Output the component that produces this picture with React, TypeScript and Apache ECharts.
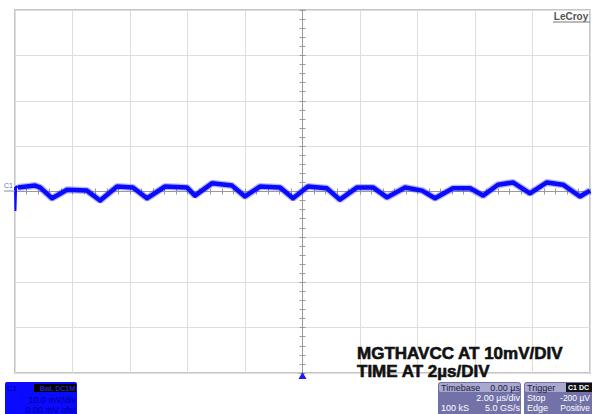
import React, { useEffect, useRef } from "react";
import * as echarts from "echarts";

// Time base: 2 µs/div, 10 divisions; vertical: 10 mV/div, 8 divisions
const X_MIN = -10;
const X_MAX = 10;
const X_DIV = 2;
const Y_MIN = -40;
const Y_MAX = 40;
const Y_DIV = 10;

// Ripple waveform (µs, mV)
const timeUs = [
  -9.9, -9.3, -9.13, -8.71, -8.19, -7.5, -7.04, -6.45, -5.9, -5.41,
  -4.78, -4.02, -3.74, -3.15, -2.45, -2.0, -1.48, -0.78, -0.33, 0.19,
  0.85, 1.3, 1.9, 2.45, 2.94, 3.57, 4.16, 4.61, 5.23, 5.83,
  6.28, 6.8, 7.32, 7.91, 8.5, 9.06, 9.65, 10.0,
];
const rippleMv = [
  0.9, 1.3, 0.9, -1.5, 0.4, 0.2, -2.0, 1.1, 0.9, -1.5,
  1.1, 0.9, -0.9, 1.8, 1.3, -1.1, 1.1, 0.9, -1.5, 1.1,
  0.7, -1.8, 0.9, 0.9, -1.3, 0.9, 0.2, -1.5, 0.7, 0.7,
  -0.9, 1.5, 2.0, -0.4, 2.0, 1.5, -1.1, 0.2,
];
// Start-of-record glitch
const glitchTimeUs = [-10.0, -9.985, -9.96, -9.9];
const glitchMv = [1.0, -4.3, 1.2, 0.9];

const FONT = "Arial, Helvetica, sans-serif";

function txt(
  x: number, y: number, text: string, size: number, fill: string,
  align = "left", weight = "normal", vAlign = "middle", strokeW = 0
) {
  const style: any = {
    text,
    font: `${weight} ${size}px ${FONT}`,
    fontSize: size,
    fontFamily: FONT,
    fontWeight: weight === "bold" ? 700 : 400,
    fill,
    align,
    verticalAlign: vAlign,
    textAlign: align,
    textVerticalAlign: vAlign,
  };
  if (strokeW > 0) {
    style.stroke = fill;
    style.lineWidth = strokeW;
  }
  return { type: "text", x, y, silent: true, z: 20, style };
}

export default function App() {
  const ref = useRef<HTMLDivElement>(null);

  useEffect(() => {
    if (!ref.current) return;
    const chart = echarts.init(ref.current, undefined, { renderer: "svg" });

    const axisGray = "#9a9a9a";
    const tickCommon = {
      axisLine: { show: true, onZero: true, lineStyle: { color: axisGray, width: 1 } },
      axisTick: { show: true, length: 3, lineStyle: { color: axisGray, width: 1 } },
      minorTick: { show: true, splitNumber: 5, length: 3, lineStyle: { color: axisGray, width: 1 } },
      axisLabel: { show: false },
    };

    const rippleData = timeUs.map((t, i) => [t, rippleMv[i]]);
    const glitchData = glitchTimeUs.map((t, i) => [t, glitchMv[i]]);

    chart.setOption({
      animation: false,
      backgroundColor: "#ffffff",
      grid: {
        left: 15,
        top: 10,
        right: 2,
        bottom: 41,
        show: true,
        borderColor: "#c6c6c6",
        borderWidth: 2,
        backgroundColor: "#ffffff",
      },
      xAxis: [
        {
          type: "value", min: X_MIN, max: X_MAX, interval: X_DIV, position: "bottom",
          ...tickCommon,
          splitLine: { show: true, lineStyle: { color: "#dedede", width: 1 } },
        },
        {
          type: "value", min: X_MIN, max: X_MAX, interval: X_DIV, position: "top",
          ...tickCommon,
          splitLine: { show: false },
        },
      ],
      yAxis: [
        {
          type: "value", min: Y_MIN, max: Y_MAX, interval: Y_DIV, position: "left",
          ...tickCommon,
          splitLine: { show: true, lineStyle: { color: "#dedede", width: 1 } },
        },
        {
          type: "value", min: Y_MIN, max: Y_MAX, interval: Y_DIV, position: "right",
          ...tickCommon,
          splitLine: { show: false },
        },
      ],
      series: [
        {
          type: "line", xAxisIndex: 0, yAxisIndex: 0, data: rippleData,
          showSymbol: false, symbol: "none", clip: true, z: 4,
          lineStyle: { color: "#2a2aff", width: 7, opacity: 0.35 },
        },
        {
          type: "line", xAxisIndex: 0, yAxisIndex: 0, data: rippleData,
          showSymbol: false, symbol: "none", clip: true, z: 5,
          lineStyle: { color: "#0a0aff", width: 4.5, join: "round" },
        },
        {
          type: "line", xAxisIndex: 0, yAxisIndex: 0, data: glitchData,
          showSymbol: false, symbol: "none", clip: true, z: 6,
          lineStyle: { color: "#0a0aff", width: 2 },
        },
      ],
      graphic: [
        // LeCroy logo
        txt(571, 16, "LeCroy", 10, "#555555", "center", "bold"),
        { type: "line", silent: true, z: 20, shape: { x1: 553, y1: 22, x2: 590, y2: 22 }, style: { stroke: "#777777", lineWidth: 1 } },
        // C1 ground marker
        txt(4, 185, "C1", 7, "#6c78a8", "left"),
        { type: "line", silent: true, z: 20, shape: { x1: 4, y1: 191, x2: 15, y2: 191 }, style: { stroke: "#8090b0", lineWidth: 1 } },
        // annotations
        txt(357, 345, "MGTHAVCC AT 10mV/DIV", 17, "#111111", "left", "bold", "alphabetic", 0.6),
        txt(357, 363, "TIME AT 2µs/DIV", 17, "#111111", "left", "bold", "alphabetic", 0.6),
        // trigger position marker
        { type: "polygon", silent: true, z: 21, shape: { points: [[302.5, 372], [298.5, 379], [306.5, 379]] }, style: { fill: "#1a1aff" } },
        // channel descriptor box
        { type: "rect", silent: true, z: 19, shape: { x: 5, y: 382, width: 72, height: 34, r: 2 }, style: { fill: "#0a0aff" } },
        txt(7, 388, "C1", 8, "#000088", "left"),
        { type: "rect", silent: true, z: 20, shape: { x: 34, y: 384, width: 42, height: 8 }, style: { fill: "#000000" } },
        txt(75, 388, "BwL DC1M", 7, "#3a3aff", "right"),
        txt(76, 400, "10.0 mV/div", 9, "#000090", "right"),
        txt(76, 410, "0.00 mV ofst", 9, "#000090", "right"),
        // timebase box
        { type: "rect", silent: true, z: 19, shape: { x: 438, y: 382, width: 83, height: 34, r: 3 }, style: { fill: "#7272a8" } },
        { type: "rect", silent: true, z: 19, shape: { x: 439, y: 383, width: 81, height: 9, r: 2 }, style: { fill: "#a9a9cf" } },
        txt(441, 387.5, "Timebase", 9, "#1a1a3a", "left"),
        txt(520, 387.5, "0.00 µs", 9, "#1a1a3a", "right"),
        txt(520, 398, "2.00 µs/div", 9, "#ffffff", "right"),
        txt(441, 408, "100 kS", 9, "#ffffff", "left"),
        txt(520, 408, "5.0 GS/s", 9, "#ffffff", "right"),
        // trigger box
        { type: "rect", silent: true, z: 19, shape: { x: 524, y: 382, width: 72, height: 34, r: 3 }, style: { fill: "#7272a8" } },
        { type: "rect", silent: true, z: 19, shape: { x: 525, y: 383, width: 70, height: 9, r: 2 }, style: { fill: "#a9a9cf" } },
        txt(527, 387.5, "Trigger", 9, "#1a1a3a", "left"),
        { type: "rect", silent: true, z: 20, shape: { x: 566, y: 383, width: 26, height: 9 }, style: { fill: "#111111" } },
        txt(568, 387.5, "C1 DC", 7, "#ffffff", "left", "bold"),
        txt(527, 398, "Stop", 9, "#ffffff", "left"),
        txt(590, 398, "-200 µV", 8.5, "#ffffff", "right"),
        txt(527, 408, "Edge", 9, "#ffffff", "left"),
        txt(590, 408, "Positive", 8.5, "#ffffff", "right"),
      ],
    });

    return () => chart.dispose();
  }, []);

  return (
    <div
      ref={ref}
      style={{ position: "absolute", left: 0, top: 0, width: 592, height: 414, background: "#ffffff" }}
    />
  );
}
